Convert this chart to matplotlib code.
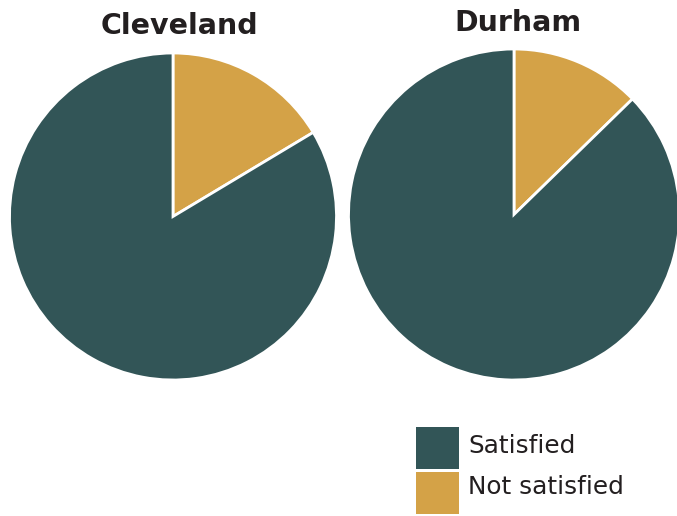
import matplotlib
matplotlib.use("Agg")
import matplotlib.pyplot as plt
from matplotlib.patches import Rectangle

cities = ["Cleveland", "Durham"]
categories = ["Satisfied", "Not satisfied"]
satisfied = [83.6, 87.3]
not_satisfied = [16.4, 12.7]
colors = {"Satisfied": "#325557", "Not satisfied": "#D4A247"}
text_color = "#231F20"

W, H = 677, 516
fig = plt.figure(figsize=(W / 100, H / 100), dpi=100)

# pie placement in pixels: (center x, center y from top, radius)
layout = [(173, 216.5, 163.5), (514, 214.5, 165.5)]
# title anchor: (center x, baseline y from top)
title_pos = [(179, 34), (518, 31)]

for city, sat, nsat, (cx, cy, r), (tx, ty) in zip(cities, satisfied, not_satisfied, layout, title_pos):
    ax = fig.add_axes([(cx - r) / W, (H - cy - r) / H, 2 * r / W, 2 * r / H])
    ax.pie([nsat, sat], colors=[colors["Not satisfied"], colors["Satisfied"]],
           startangle=90, counterclock=False, radius=1,
           wedgeprops=dict(edgecolor="white", linewidth=2))
    ax.set_xlim(-1, 1)
    ax.set_ylim(-1, 1)
    ax.set_aspect("auto")
    ax.axis("off")
    fig.text(tx / W, 1 - ty / H, city, ha="center", va="baseline",
             fontsize=20.5, fontweight="bold", family="DejaVu Sans", color=text_color)

# legend: colour squares with labels, stacked
box_x, box_w, box_h, gap = 416, 43, 42, 3
top = 427
baselines = [453, 494]
for i, cat in enumerate(categories):
    y0 = top + i * (box_h + gap)
    fig.add_artist(Rectangle((box_x / W, 1 - (y0 + box_h) / H), box_w / W, box_h / H,
                             transform=fig.transFigure, facecolor=colors[cat],
                             edgecolor="none"))
    fig.text(468 / W, 1 - baselines[i] / H, cat, ha="left", va="baseline",
             fontsize=17.8, family="DejaVu Sans", color=text_color)

fig.savefig("out.png", dpi=100)
